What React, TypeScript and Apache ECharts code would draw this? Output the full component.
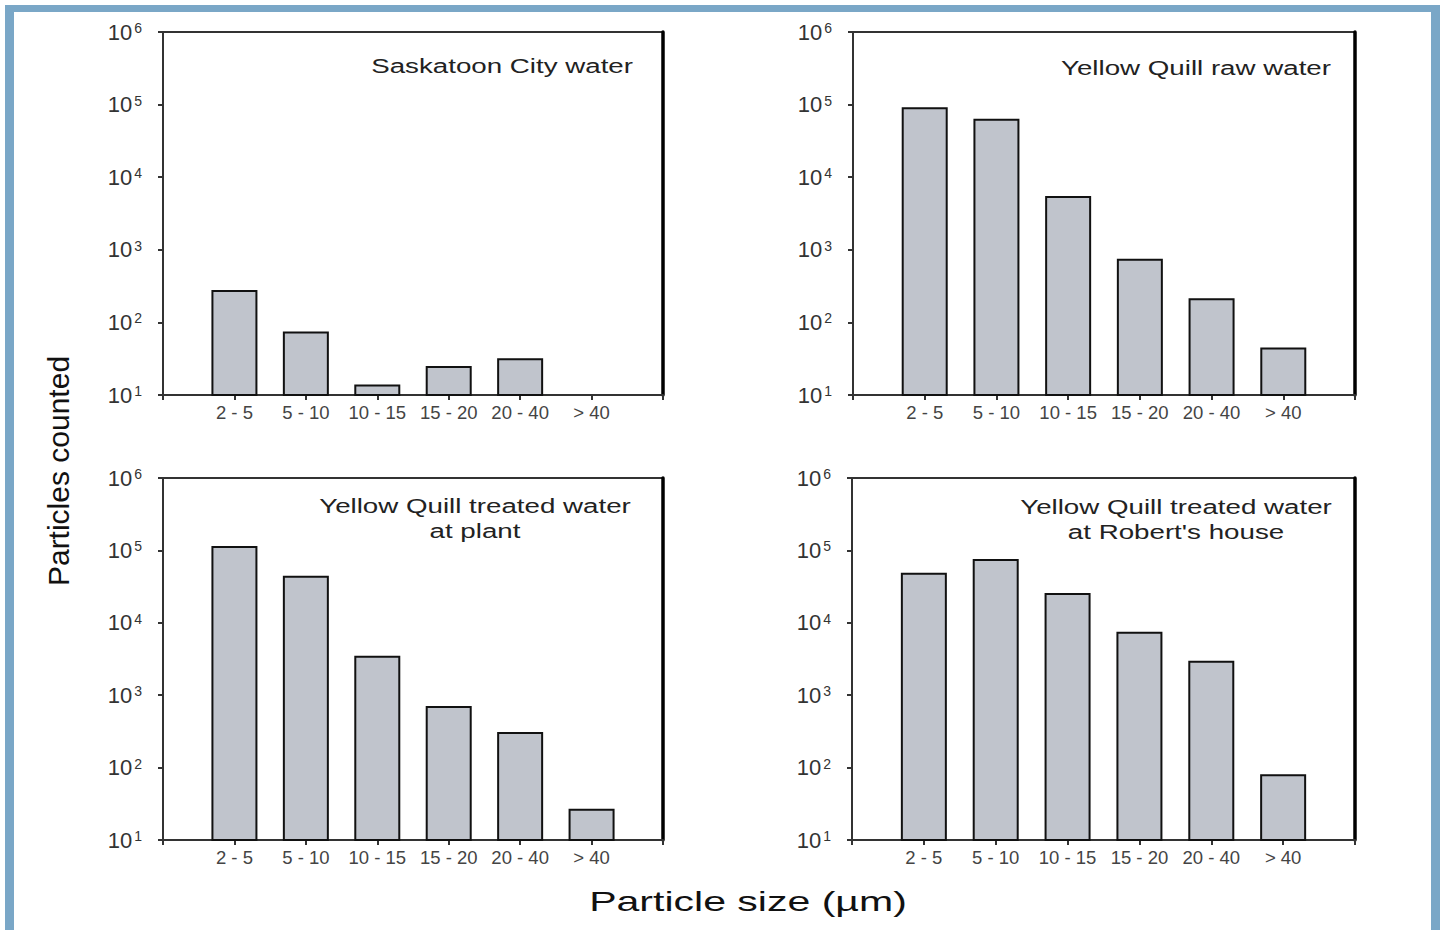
import { useEffect, useRef } from 'react';
import * as echarts from 'echarts';

const categories = ['2 - 5', '5 - 10', '10 - 15', '15 - 20', '20 - 40', '> 40'];
const saskatoonCity: (number | null)[] = [280, 75, 14, 25, 32, null];
const yellowQuillRaw: (number | null)[] = [92000, 64000, 5500, 750, 215, 45];
const treatedAtPlant: (number | null)[] = [115000, 44500, 3500, 710, 310, 27];
const treatedAtRoberts: (number | null)[] = [49000, 76000, 25800, 7500, 3000, 81];
const panelSeries = [saskatoonCity, yellowQuillRaw, treatedAtPlant, treatedAtRoberts];
const panelTitles = [
  'Saskatoon City water',
  'Yellow Quill raw water',
  'Yellow Quill treated water\nat plant',
  "Yellow Quill treated water\nat Robert's house",
];
const yAxisName = 'Particles counted';
const xAxisName = 'Particle size (µm)';
const yMin = 10;
const yMax = 1e6;

const FONT = '"Liberation Sans", Arial, Helvetica, sans-serif';

const grids = [
  { left: 163, top: 32, width: 500, height: 363 },
  { left: 853, top: 32, width: 502, height: 363 },
  { left: 163, top: 478, width: 500, height: 362 },
  { left: 852, top: 478, width: 503, height: 362 },
];

const titlePlacement = [
  { x: 633, y: 66, align: 'right' },
  { x: 1331, y: 68, align: 'right' },
  { x: 475, y: 518, align: 'center' },
  { x: 1176, y: 519, align: 'center' },
];

export default function App() {
  const ref = useRef<HTMLDivElement>(null);
  useEffect(() => {
    if (!ref.current) return;
    const chart = echarts.init(ref.current, null, { renderer: 'svg' });
    const xData = ['', ...categories, ''];

    const xAxes: any[] = [];
    const yAxes: any[] = [];
    const series: any[] = [];
    grids.forEach((g, i) => {
      xAxes.push({
        type: 'category',
        gridIndex: i,
        data: xData,
        boundaryGap: false,
        axisLine: { lineStyle: { color: '#333', width: 2 } },
        axisTick: { show: true, interval: 0, length: 5, lineStyle: { color: '#333', width: 2 } },
        axisLabel: { interval: 0, margin: 8, fontSize: 18.5, color: '#444', fontFamily: FONT },
        splitLine: { show: false },
      });
      yAxes.push({
        type: 'log',
        logBase: 10,
        gridIndex: i,
        min: yMin,
        max: yMax,
        position: 'left',
        axisLine: { show: true, lineStyle: { color: '#333', width: 2 } },
        axisTick: { show: true, length: 5, lineStyle: { color: '#333', width: 2 } },
        minorTick: { show: false },
        splitLine: { show: false },
        axisLabel: {
          margin: 21,
          formatter: (v: number) => `{a|10}{b|${Math.round(Math.log10(v))}}`,
          rich: {
            a: { fontSize: 22, color: '#333', fontFamily: FONT, lineHeight: 22 },
            b: { fontSize: 14, color: '#333', fontFamily: FONT, verticalAlign: 'top', padding: [0, 0, 0, 2] },
          },
        },
      });
      yAxes.push({
        type: 'log',
        logBase: 10,
        gridIndex: i,
        min: yMin,
        max: yMax,
        position: 'right',
        axisLine: { show: true, lineStyle: { color: '#000', width: 3.5 } },
        axisTick: { show: false },
        axisLabel: { show: false },
        splitLine: { show: false },
      });
      series.push({
        type: 'bar',
        xAxisIndex: i,
        yAxisIndex: 2 * i,
        data: [null, ...panelSeries[i], null].map((v) => (v == null ? '-' : v)),
        barWidth: 46,
        clip: true,
        itemStyle: { color: '#c0c4cc', borderColor: '#111', borderWidth: 2 },
      });
    });

    const graphic: any[] = [
      { type: 'rect', shape: { x: 5, y: 5, width: 1435, height: 7 }, style: { fill: '#7aa7c7' } },
      { type: 'rect', shape: { x: 5, y: 5, width: 9, height: 925 }, style: { fill: '#7aa7c7' } },
      { type: 'rect', shape: { x: 1431, y: 5, width: 9, height: 925 }, style: { fill: '#7aa7c7' } },
      {
        type: 'text',
        x: 58,
        y: 471,
        rotation: Math.PI / 2,
        style: { text: yAxisName, fontSize: 30, fontFamily: FONT, fill: '#111', align: 'center', verticalAlign: 'middle' },
      },
      {
        type: 'text',
        x: 748,
        y: 902,
        scaleX: 1.52,
        style: { text: xAxisName, fontSize: 27, fontFamily: FONT, fill: '#111', align: 'center', verticalAlign: 'middle' },
      },
    ];
    panelTitles.forEach((t, i) => {
      const p = titlePlacement[i];
      graphic.push({
        type: 'text',
        x: p.x,
        y: p.y,
        scaleX: 1.32,
        style: {
          text: t,
          fontSize: 21,
          lineHeight: 25,
          fontFamily: FONT,
          fill: '#222',
          align: p.align,
          verticalAlign: 'middle',
        },
      });
    });

    chart.setOption({
      animation: false,
      backgroundColor: '#fff',
      grid: grids.map((g) => ({ ...g, show: true, borderColor: '#333', borderWidth: 2, backgroundColor: 'transparent' })),
      xAxis: xAxes,
      yAxis: yAxes,
      series,
      graphic,
    });
    return () => chart.dispose();
  }, []);
  return <div ref={ref} style={{ position: 'absolute', left: 0, top: 0, width: 1442, height: 930 }} />;
}
